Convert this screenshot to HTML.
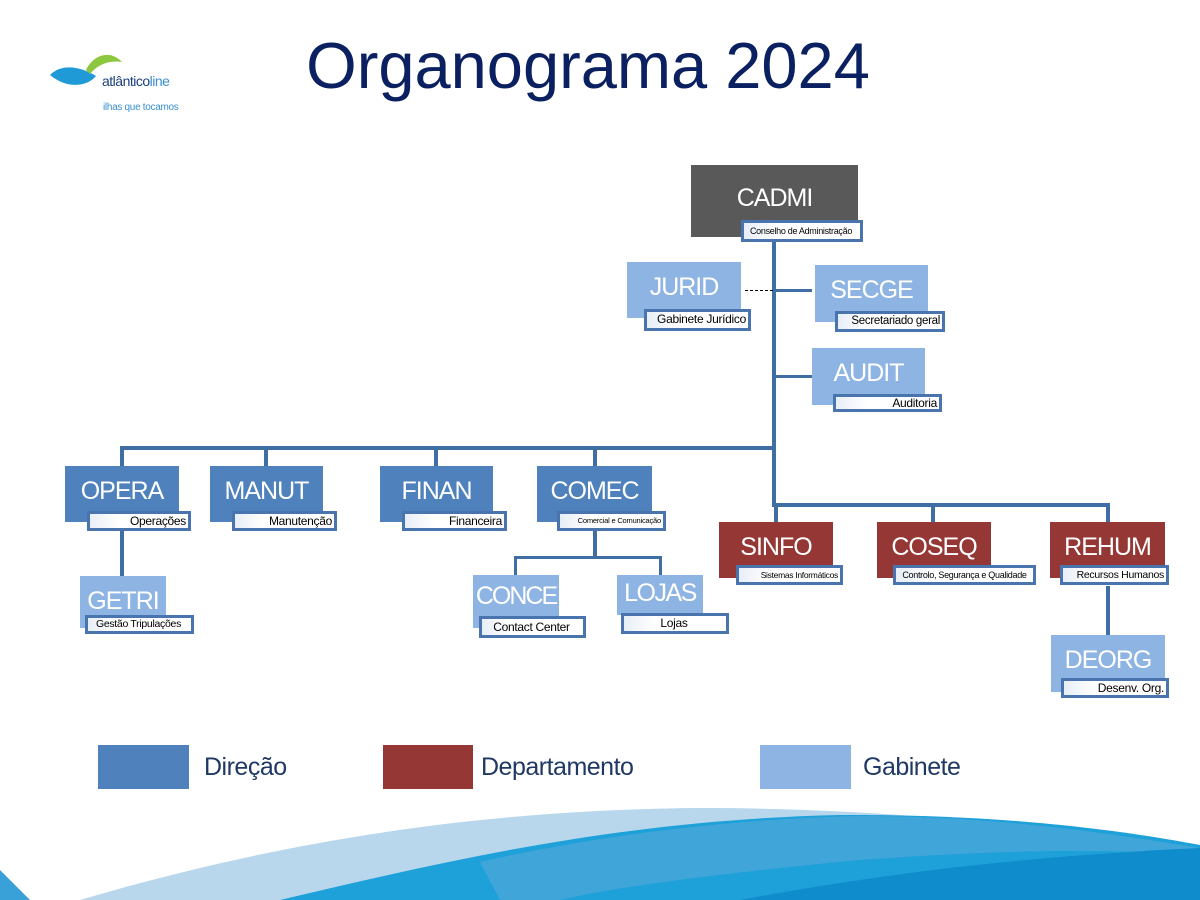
<!DOCTYPE html>
<html><head><meta charset="utf-8"><style>
body{margin:0;width:1200px;height:900px;position:relative;background:#fff;overflow:hidden;font-family:"Liberation Sans",sans-serif}
.a{position:absolute}
.n{position:absolute;color:#fff;font-size:25px;letter-spacing:-1px;text-align:center;box-sizing:border-box;padding-top:10px;line-height:30px;white-space:nowrap}
.d{background:#4f81bd}.p{background:#953735}.g{background:#8eb4e3}
.l{position:absolute;box-sizing:border-box;border:3px solid #4a74ad;background:linear-gradient(90deg,#e8eef7,#fff 30%);color:#000;font-size:12px;letter-spacing:-0.3px;line-height:14px;text-align:right;padding-right:2px;white-space:nowrap;overflow:hidden}
.h{position:absolute;background:#3f6ea5}
</style></head><body>
<!-- wave -->
<svg class="a" style="left:0;top:790px" width="1200" height="110" viewBox="0 0 1200 110">
<path d="M80 110 C250 60 450 20 700 18 C900 18 1080 40 1200 60 L1200 110Z" fill="#b8d6ec"/>
<path d="M280 110 C450 70 620 30 840 25 C1000 24 1120 40 1200 55 L1200 110Z" fill="#1ea0d8"/>
<path d="M480 72 C620 40 760 28 860 26 C1000 26 1120 45 1200 58 L1200 65 C1100 58 1000 60 860 70 C700 85 600 100 560 110 L500 110Z" fill="#4fa8dc" opacity=".7"/>
<path d="M740 110 C900 80 1050 65 1200 58 L1200 110Z" fill="#0e8ccc"/>
<path d="M0 80 L30 110 L0 110Z" fill="#3aa0d8"/>
</svg>
<!-- logo -->
<svg class="a" style="left:48px;top:50px" width="80" height="45" viewBox="0 0 80 45">
<path d="M2 25 C15 12 35 18 48 26 C40 36 20 40 2 25Z" fill="#1f9ad6"/>
<path d="M38 20 C45 5 62 -1 74 12 C62 10 50 14 42 24Z" fill="#8dc63f"/>
</svg>
<div class="a" style="left:102px;top:73px;font-size:14px;letter-spacing:-0.5px;color:#1c5a9a"><span style="color:#1c3f7a">atlântico</span><span style="color:#3a8fd0">line</span></div>
<div class="a" style="left:103px;top:102px;font-size:10px;letter-spacing:-0.3px;color:#3a8fd0">ilhas que tocamos</div>
<div class="a" style="left:0;width:1176px;top:28px;text-align:center;font-size:65px;color:#0b2060">Organograma 2024</div>

<!-- connectors -->
<div class="h" style="left:772px;top:240px;width:4px;height:267px"></div>
<div class="h" style="left:774px;top:289px;width:38px;height:3px"></div>
<div class="a" style="left:745px;top:290px;width:28px;border-top:1px dashed #000"></div>
<div class="h" style="left:774px;top:375px;width:38px;height:3px"></div>
<div class="h" style="left:120px;top:446px;width:656px;height:4px"></div>
<div class="h" style="left:120px;top:446px;width:4px;height:20px"></div>
<div class="h" style="left:264px;top:446px;width:4px;height:20px"></div>
<div class="h" style="left:434px;top:446px;width:4px;height:20px"></div>
<div class="h" style="left:593px;top:446px;width:4px;height:20px"></div>
<div class="h" style="left:774px;top:503px;width:336px;height:4px"></div>
<div class="h" style="left:774px;top:503px;width:4px;height:19px"></div>
<div class="h" style="left:931px;top:503px;width:4px;height:19px"></div>
<div class="h" style="left:1106px;top:503px;width:4px;height:19px"></div>
<div class="h" style="left:120px;top:530px;width:4px;height:46px"></div>
<div class="h" style="left:593px;top:530px;width:4px;height:28px"></div>
<div class="h" style="left:514px;top:556px;width:148px;height:3px"></div>
<div class="h" style="left:514px;top:556px;width:3px;height:19px"></div>
<div class="h" style="left:659px;top:556px;width:3px;height:19px"></div>
<div class="h" style="left:1106px;top:586px;width:4px;height:50px"></div>

<!-- nodes -->
<div class="n" style="left:691px;top:165px;width:167px;height:72px;background:#595959;padding-top:18px">CADMI</div>
<div class="l" style="left:741px;top:220px;width:122px;height:22px;font-size:9px;text-align:center;line-height:16px">Conselho de Administração</div>

<div class="n g" style="left:627px;top:262px;width:114px;height:56px">JURID</div>
<div class="l" style="left:644px;top:309px;width:107px;height:22px">Gabinete Jurídico</div>
<div class="n g" style="left:815px;top:265px;width:113px;height:57px">SECGE</div>
<div class="l" style="left:835px;top:311px;width:110px;height:21px;font-size:11.5px">Secretariado geral</div>
<div class="n g" style="left:812px;top:348px;width:113px;height:57px">AUDIT</div>
<div class="l" style="left:833px;top:394px;width:109px;height:18px;line-height:12px">Auditoria</div>

<div class="n d" style="left:65px;top:466px;width:114px;height:56px">OPERA</div>
<div class="l" style="left:87px;top:511px;width:104px;height:20px">Operações</div>
<div class="n d" style="left:210px;top:466px;width:113px;height:56px">MANUT</div>
<div class="l" style="left:232px;top:511px;width:105px;height:20px">Manutenção</div>
<div class="n d" style="left:380px;top:466px;width:113px;height:56px">FINAN</div>
<div class="l" style="left:402px;top:511px;width:105px;height:20px">Financeira</div>
<div class="n d" style="left:537px;top:466px;width:115px;height:56px">COMEC</div>
<div class="l" style="left:557px;top:511px;width:109px;height:20px;font-size:7.5px;letter-spacing:-0.2px">Comercial e Comunicação</div>

<div class="n g" style="left:80px;top:576px;width:86px;height:52px;padding-top:10px">GETRI</div>
<div class="l" style="left:85px;top:615px;width:109px;height:19px;font-size:10.5px;line-height:13px;text-align:center">Gestão Tripulações</div>
<div class="n g" style="left:473px;top:575px;width:86px;height:53px;padding-top:6px;letter-spacing:-2px">CONCE</div>
<div class="l" style="left:479px;top:616px;width:107px;height:22px;text-align:center;line-height:16px">Contact Center</div>
<div class="n g" style="left:617px;top:575px;width:86px;height:40px;padding-top:3px;letter-spacing:-1.5px">LOJAS</div>
<div class="l" style="left:621px;top:613px;width:108px;height:21px;text-align:center;line-height:15px">Lojas</div>

<div class="n p" style="left:719px;top:522px;width:114px;height:56px">SINFO</div>
<div class="l" style="left:736px;top:565px;width:107px;height:20px;font-size:8.5px">Sistemas Informáticos</div>
<div class="n p" style="left:877px;top:522px;width:114px;height:56px">COSEQ</div>
<div class="l" style="left:893px;top:565px;width:143px;height:20px;font-size:9px;text-align:center;padding-right:0">Controlo, Segurança e Qualidade</div>
<div class="n p" style="left:1050px;top:522px;width:115px;height:56px">REHUM</div>
<div class="l" style="left:1060px;top:565px;width:109px;height:20px;font-size:10.5px">Recursos Humanos</div>
<div class="n g" style="left:1051px;top:635px;width:114px;height:57px">DEORG</div>
<div class="l" style="left:1061px;top:678px;width:108px;height:20px">Desenv. Org.</div>

<!-- legend -->
<div class="a d" style="left:98px;top:745px;width:91px;height:44px"></div>
<div class="a" style="left:204px;top:753px;font-size:25px;letter-spacing:-0.5px;color:#1f3864">Direção</div>
<div class="a p" style="left:383px;top:745px;width:90px;height:44px"></div>
<div class="a" style="left:481px;top:753px;font-size:25px;letter-spacing:-0.5px;color:#1f3864">Departamento</div>
<div class="a g" style="left:760px;top:745px;width:91px;height:44px"></div>
<div class="a" style="left:863px;top:753px;font-size:25px;letter-spacing:-0.5px;color:#1f3864">Gabinete</div>
</body></html>
